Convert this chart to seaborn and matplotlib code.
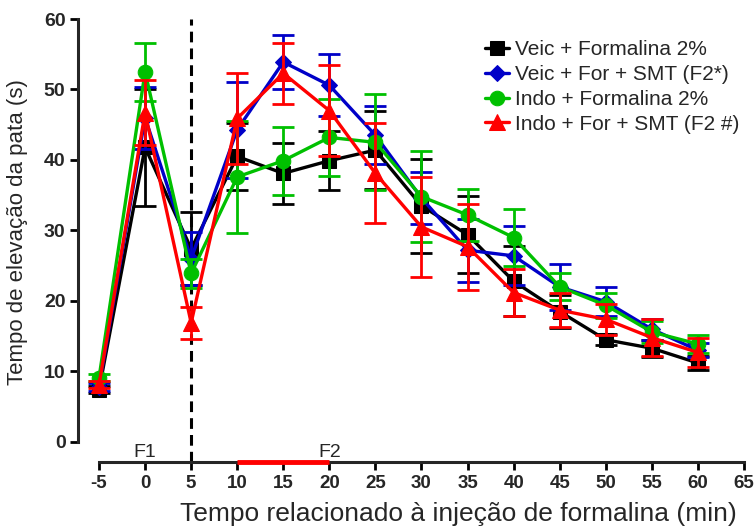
import numpy as np
import pandas as pd
import matplotlib
matplotlib.use("Agg")
import matplotlib.pyplot as plt
import seaborn as sns

# ---- data ----
times = [-5, 0, 5, 10, 15, 20, 25, 30, 35, 40, 45, 50, 55, 60]

veic_form = [7.4, 41.8, 27.4, 40.5, 38.1, 39.9, 41.4, 33.5, 29.4, 22.8, 18.5, 14.5, 13.3, 11.2]
veic_form_sem = [0.5, 8.3, 5.2, 4.7, 4.3, 4.2, 5.5, 6.7, 5.5, 5.0, 2.4, 0.8, 1.2, 1.0]

veic_smt = [7.8, 46.0, 26.0, 44.3, 53.9, 50.6, 43.5, 34.6, 27.2, 26.4, 22.0, 19.9, 16.0, 13.0]
veic_smt_sem = [0.5, 4.4, 3.8, 6.8, 3.9, 4.4, 4.1, 3.7, 4.5, 4.2, 3.3, 2.1, 1.5, 1.0]

indo_form = [9.1, 52.5, 23.9, 37.6, 39.9, 43.2, 42.5, 34.8, 32.2, 29.0, 22.0, 19.4, 15.6, 13.9]
indo_form_sem = [0.5, 4.1, 2.0, 7.9, 4.8, 5.4, 6.8, 6.5, 3.7, 4.0, 1.9, 1.8, 1.5, 1.3]

indo_smt = [8.1, 46.7, 16.9, 45.9, 52.3, 47.0, 38.1, 30.5, 27.7, 21.2, 18.7, 17.4, 14.8, 12.7]
indo_smt_sem = [0.5, 4.6, 2.3, 6.5, 4.3, 6.5, 7.1, 7.1, 6.1, 3.3, 2.4, 2.2, 2.6, 2.1]

labels = ["Veic + Formalina 2%", "Veic + For + SMT (F2*)",
          "Indo + Formalina 2%", "Indo + For + SMT (F2 #)"]
xticks = list(range(-5, 70, 5))
yticks = list(range(0, 70, 10))

# ---- plot ----
sns.set_style("ticks")
plt.rcParams["font.family"] = ["Liberation Sans", "DejaVu Sans"]

fig = plt.figure(figsize=(7.56, 5.30), dpi=100)
ax = fig.add_axes([78/756, 1-462/530, (752-78)/756, (462-19)/530])

series = [
    (veic_form, veic_form_sem, "#000000", "s", 9.5),
    (veic_smt, veic_smt_sem, "#0000C8", "D", 8.5),
    (indo_form, indo_form_sem, "#00C000", "o", 10.5),
    (indo_smt, indo_smt_sem, "#FF0000", "^", 11),
]

for i, ((vals, sem, col, mk, ms), lab) in enumerate(zip(series, labels)):
    ax.errorbar(times, vals, yerr=sem, fmt="none", ecolor=col, elinewidth=2,
                capsize=8, capthick=2, zorder=2 + i)
    df = pd.DataFrame({"t": times, "v": vals})
    sns.lineplot(data=df, x="t", y="v", ax=ax, color=col, marker=mk,
                 markersize=ms, markeredgecolor=col, linewidth=2.4,
                 label=lab, zorder=2.5 + i)

# dashed separator at 5 min
ax.plot([5, 5], [-2.84, 60], color="black", linestyle=(0, (3.5, 2)),
        linewidth=2.2, zorder=1, clip_on=False)

ax.set_xlim(-7.28, 65.87)
ax.set_ylim(-2.84, 60)
ax.set_xticks(xticks)
ax.set_yticks(yticks)
ax.set_xticklabels([str(t) for t in xticks], fontsize=13.5, fontweight="bold")
ax.set_yticklabels([str(t) for t in yticks], fontsize=14, fontweight="bold")

for s in ["top", "right"]:
    ax.spines[s].set_visible(False)
ax.spines["left"].set_bounds(0, 60)
ax.spines["bottom"].set_bounds(-5, 65)
ax.spines["left"].set_linewidth(2.2)
ax.spines["bottom"].set_linewidth(2.2)
ax.tick_params(axis="both", width=2, length=6, color="black", pad=3)

# F2 red bar on the axis
ax.plot([10, 20], [-2.84, -2.84], color="#FF0000", linewidth=3.5,
        zorder=10, clip_on=False, solid_capstyle="butt")
ax.text(0, -1.5, "F1", ha="center", va="center", fontsize=14)
ax.text(20, -1.5, "F2", ha="center", va="center", fontsize=14)

ax.set_xlabel("Tempo relacionado à injeção de formalina (min)", fontsize=19)
ax.xaxis.set_label_coords(0.564, -0.09)
ax.xaxis.label.set_va("top")
ax.set_ylabel("Tempo de elevação da pata (s)", fontsize=16)
ax.yaxis.set_label_coords(-0.074, 0.52)

leg = ax.legend(loc="upper left", bbox_to_anchor=(0.604, 0.952), frameon=False,
                fontsize=15, handlelength=1.15, handletextpad=0.3,
                labelspacing=0.28, borderaxespad=0, borderpad=0)

fig.savefig("out.png", dpi=100)
